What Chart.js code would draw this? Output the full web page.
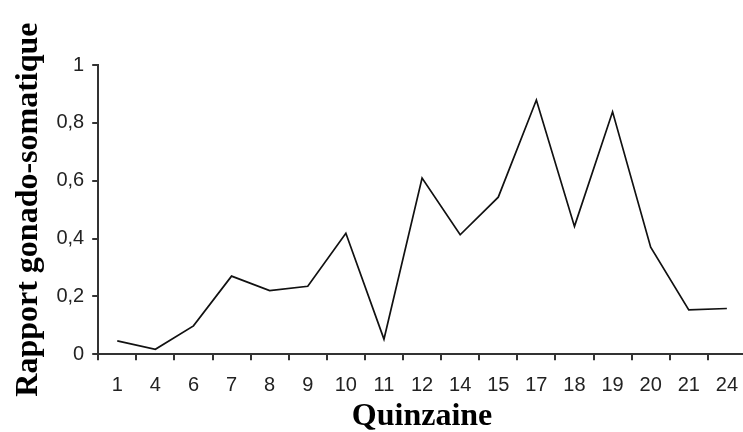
<!DOCTYPE html>
<html>
<head>
<meta charset="utf-8">
<script src="https://cdn.jsdelivr.net/npm/chart.js@4"></script>
<style>
  html, body { margin: 0; padding: 0; background: #fff; overflow: hidden; }
  #outer { width: 743px; height: 432px; overflow: hidden; }
  #wrap { width: 751px; height: 432px; }
</style>
</head>
<body>
<div id="outer"><div id="wrap"><canvas id="lineChart"></canvas></div></div>
<script>
// quinzaines (x axis)
var quinzaines = ['1', '4', '6', '7', '8', '9', '10', '11', '12', '14', '15', '17', '18', '19', '20', '21', '24'];
// rapport gonado-somatique
var rgs = [0.046, 0.017, 0.098, 0.27, 0.22, 0.235, 0.418, 0.052, 0.609, 0.413, 0.543, 0.879, 0.442, 0.838, 0.37, 0.153, 0.158];
var yTicks = [0, 0.2, 0.4, 0.6, 0.8, 1];

var ctx = document.getElementById('lineChart').getContext('2d');

var config = {
    type: 'line',
    data: {
        labels: quinzaines,
        datasets: [{
            data: rgs,
            borderColor: '#111',
            borderWidth: 1.7,
            pointRadius: 0,
            fill: false,
            tension: 0
        }]
    },
    options: {
        responsive: true,
        maintainAspectRatio: false,
        animation: false,
        layout: { padding: { top: 65, right: 0, left: 8, bottom: 0 } },
        plugins: {
            legend: { display: false },
            tooltip: { enabled: false }
        },
        scales: {
            x: {
                offset: true,
                grid: {
                    offset: true,
                    drawOnChartArea: false,
                    drawTicks: true,
                    tickLength: 6,
                    color: '#333',
                    lineWidth: 2
                },
                border: { color: '#333', width: 2 },
                ticks: {
                    color: '#222',
                    font: { family: 'Liberation Sans', size: 20 },
                    padding: 13,
                    maxRotation: 0,
                    autoSkip: false
                },
                title: {
                    display: true,
                    text: 'Quinzaine',
                    color: '#000',
                    font: { family: 'Liberation Serif', size: 32, weight: 'bold', lineHeight: 0.4 },
                    padding: { top: 0, bottom: 9 }
                }
            },
            y: {
                min: 0,
                max: 1,
                afterBuildTicks: function (axis) {
                    axis.ticks = yTicks.map(function (v) { return { value: v }; });
                },
                grid: {
                    drawOnChartArea: false,
                    drawTicks: true,
                    tickLength: 6,
                    color: '#333',
                    lineWidth: 2
                },
                border: { color: '#333', width: 2 },
                ticks: {
                    color: '#222',
                    font: { family: 'Liberation Sans', size: 20 },
                    padding: 8,
                    callback: function (v) { return String(v).replace('.', ','); }
                },
                title: {
                    display: true,
                    text: 'Rapport gonado-somatique',
                    color: '#000',
                    font: { family: 'Liberation Serif', size: 32, weight: 'bold' },
                    padding: { top: 2, bottom: 0 }
                }
            }
        }
    }
};

var myChart = new Chart(ctx, config);
</script>
</body>
</html>
